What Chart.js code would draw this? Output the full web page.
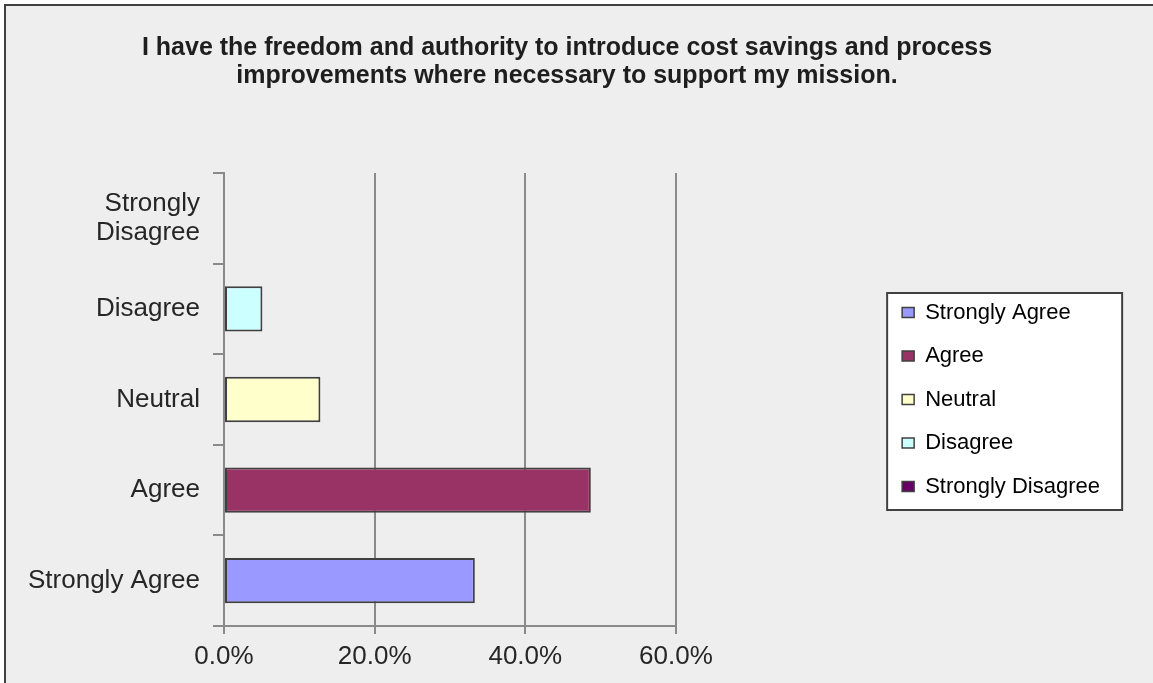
<!DOCTYPE html>
<html><head><meta charset="utf-8">
<script src="https://cdn.jsdelivr.net/npm/chart.js@4/dist/chart.umd.min.js"></script>
<style>html,body{margin:0;padding:0;background:#fff;} canvas{display:block;}</style>
</head><body>
<canvas id="c" width="1153" height="683"></canvas>
<script>
const categories = ['Strongly Agree', 'Agree', 'Neutral', 'Disagree', 'Strongly Disagree'];
const axisLabels = ['Strongly Agree', 'Agree', 'Neutral', 'Disagree', ['Strongly', 'Disagree']];
const percentValues = [33.3, 48.7, 12.8, 5.1, 0];
const xTickValues = [0, 20, 40, 60];
const titleLines = ['I have the freedom and authority to introduce cost savings and process',
                    'improvements where necessary to support my mission.'];
const seriesColors = ['#9999FF', '#993366', '#FFFFCC', '#CCFFFF', '#660066'];

const FONT = "'Liberation Sans', Arial, sans-serif";
const TEXT = '#262626';
const AXIS = '#8a8a8a';
const EDGE = '#404040';

const framePlugin = {
  id: 'frame',
  beforeDraw(chart) {
    const ctx = chart.ctx;
    ctx.save();
    ctx.fillStyle = '#ffffff';
    ctx.fillRect(0, 0, chart.width, chart.height);
    ctx.fillStyle = '#eeeeee';
    ctx.fillRect(6, 6, chart.width - 6, chart.height - 6);
    ctx.strokeStyle = EDGE;
    ctx.lineWidth = 2;
    ctx.beginPath();
    ctx.moveTo(5, chart.height);
    ctx.lineTo(5, 5);
    ctx.lineTo(chart.width, 5);
    ctx.stroke();
    // legend frame
    const L = chart.legend;
    if (L) {
      const pad = L.options.labels.padding;
      const fs = L.options.labels.font.size;
      const n = categories.length;
      const colH = n * (fs + pad);
      const y0 = (L.top + pad + L.bottom - colH) / 2;
      const left = L.left + pad - 15;
      const top = y0 - 8.5;
      const bottom = y0 + (n - 1) * (fs + pad) + fs + 12.5;
      ctx.fillStyle = '#ffffff';
      ctx.fillRect(left, top, 235, bottom - top);
      ctx.strokeStyle = EDGE;
      ctx.lineWidth = 2;
      ctx.strokeRect(left, top, 235, bottom - top);
    }
    ctx.restore();
  }
};

new Chart(document.getElementById('c'), {
  type: 'bar',
  data: {
    labels: axisLabels,
    datasets: [{
      label: 'Responses',
      data: percentValues,
      backgroundColor: seriesColors,
      borderColor: EDGE,
      borderWidth: (c) => (c.raw === 0 ? 0 : 2),
      borderSkipped: false,
      barPercentage: 0.5,
      categoryPercentage: 1.0
    }]
  },
  options: {
    indexAxis: 'y',
    responsive: false,
    devicePixelRatio: 1,
    animation: false,
    layout: { padding: { top: 8, left: 24, right: 43, bottom: 0 } },
    plugins: {
      tooltip: { enabled: false },
      title: {
        display: true,
        text: titleLines,
        color: '#1e1e1e',
        font: { family: FONT, size: 25, weight: 'bold', lineHeight: 1.12 },
        padding: { top: 26, bottom: 83 }
      },
      legend: {
        display: true,
        position: 'right',
        align: 'center',
        fullSize: false,
        maxWidth: 240,
        labels: {
          font: { family: FONT, size: 22 },
          color: TEXT,
          boxWidth: 12,
          boxHeight: 10,
          padding: 21.5,
          generateLabels: () => categories.map((c, i) => ({
            text: c,
            fillStyle: seriesColors[i],
            strokeStyle: EDGE,
            lineWidth: 1.5,
            hidden: false,
            datasetIndex: 0,
            index: i
          }))
        },
        onClick: () => {}
      }
    },
    scales: {
      x: {
        type: 'linear',
        min: 0,
        max: 60,
        afterBuildTicks: (s) => { s.ticks = xTickValues.map(v => ({ value: v })); },
        afterFit: (s) => { s.height = 57; },
        grid: { color: AXIS, lineWidth: 2, tickLength: 8, drawTicks: true },
        border: { display: true, color: AXIS, width: 2 },
        ticks: {
          color: TEXT,
          padding: 7,
          font: { family: FONT, size: 26, lineHeight: 1.2 },
          callback: (v) => Number(v).toFixed(1) + '%'
        }
      },
      y: {
        type: 'category',
        reverse: true,
        offset: true,
        afterFit: (s) => { s.width = 200; },
        grid: { offset: true, drawOnChartArea: false, drawTicks: true, tickLength: 11, color: AXIS, lineWidth: 2 },
        border: { display: true, color: AXIS, width: 2 },
        ticks: {
          color: TEXT,
          padding: 13,
          font: { family: FONT, size: 26, lineHeight: 1.12 }
        }
      },
      gap: {
        type: 'linear',
        axis: 'y',
        position: 'right',
        display: true,
        grid: { display: false, drawTicks: false },
        border: { display: false },
        ticks: { display: false },
        afterFit: (s) => { s.width = 204.7; }
      }
    }
  },
  plugins: [framePlugin]
});
</script>
</body></html>
